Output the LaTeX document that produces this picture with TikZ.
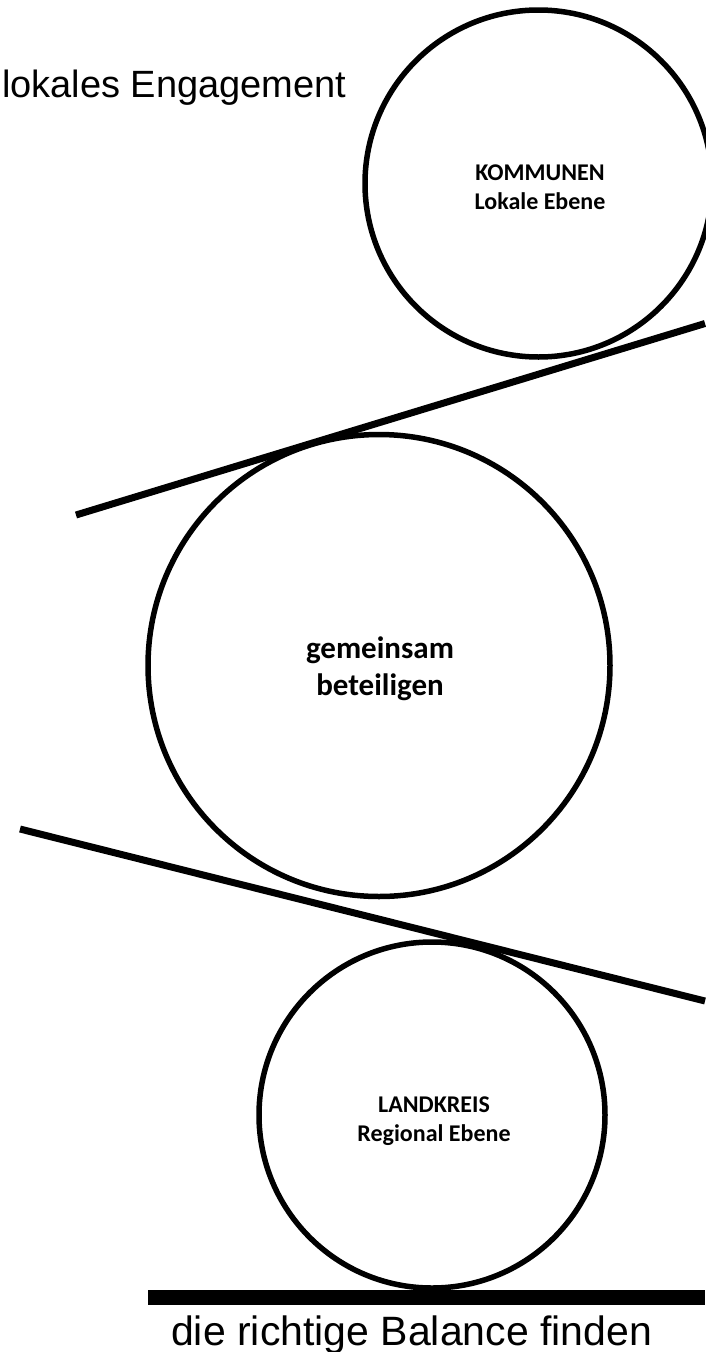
\documentclass[tikz,border=0pt]{standalone}
\usepackage{fontspec}
\setmainfont{Liberation Sans}
\newfontfamily\carlito{Carlito}
\begin{document}
\begin{tikzpicture}[x=1pt,y=-1pt,
  ring/.style={circle, draw=black, line width=5.5pt, inner sep=0pt},
  beam/.style={draw=black, line width=7pt},
  floorbar/.style={draw=black, line width=15pt},
  small/.style={inner sep=0pt, align=center, font=\carlito\bfseries\fontsize{24}{29}\selectfont},
  big/.style={inner sep=0pt, align=center, font=\carlito\bfseries\fontsize{31}{37}\selectfont},
  caption/.style={inner sep=0pt}
]
\useasboundingbox (0,0) rectangle (705,1352);
\fill[white] (0,0) rectangle (705,1352);

% circles
\node[ring, minimum size=347pt] (kom) at (538.5,183.5) {};
\node[ring, minimum size=462pt] (gem) at (379,665.5) {};
\node[ring, minimum size=346pt] (lk) at (432,1115) {};

% labels
\node[small] (komtxt) at (540,187) {KOMMUNEN\\Lokale Ebene};
\node[big] (gemtxt) at (380,669) {gemeinsam\\beteiligen};
\node[small] (lktxt) at (434,1121) {LANDKREIS\\Regional Ebene};

% beams
\coordinate (b1L) at (76,515);
\coordinate (b1R) at (705,323.5);
\coordinate (b2L) at (20,829);
\coordinate (b2R) at (705,1001);
\draw[beam] (b1L) -- (b1R);
\draw[beam] (b2L) -- (b2R);

% floor
\coordinate (fL) at (148,1297.5);
\coordinate (fR) at (705,1297.5);
\draw[floorbar] (fL) -- (fR);

% texts
\node[caption, anchor=base west, font=\fontsize{38}{45}\selectfont] (top) at (2,97) {lokales Engagement};
\node[caption, anchor=base west, font=\fontsize{41}{49}\selectfont] (bottom) at (171,1345) {die richtige Balance finden};
\end{tikzpicture}
\end{document}
